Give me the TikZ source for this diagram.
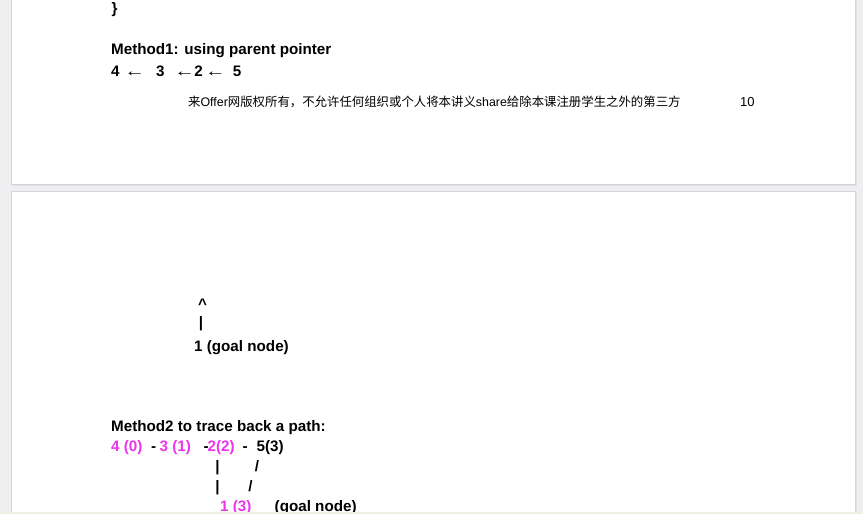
\documentclass[tikz,border=0pt]{standalone}
\usepackage{fontspec}
\setmainfont{Liberation Sans}
\newfontfamily\cjk{Noto Sans CJK SC}
\usepackage{xcolor}
\definecolor{bggray}{RGB}{239,239,241}
\definecolor{pageedge}{RGB}{212,212,214}
\definecolor{shadowc}{RGB}{226,226,228}
\definecolor{mag}{RGB}{236,52,236}
\definecolor{greenstrip}{RGB}{236,241,226}
\begin{document}
\begin{tikzpicture}[x=1pt,y=-1pt,
  txt/.style={inner sep=0pt,anchor=base west,font=\fontsize{15.2}{18}\selectfont\bfseries},
  ctxt/.style={inner sep=0pt,anchor=base,font=\fontsize{15.2}{18}\selectfont\bfseries},
  arr/.style={inner sep=0pt,anchor=base,font=\fontsize{15.2}{18}\selectfont},
  foot/.style={inner sep=0pt,anchor=base west,font=\fontsize{12.4}{15}\selectfont},
  pnumst/.style={inner sep=0pt,anchor=base west,font=\fontsize{13}{15}\selectfont},
  pagebox/.style={fill=white,draw=pageedge,line width=0.8pt},
  pink/.style={txt,text=mag}]
\useasboundingbox (0,0) rectangle (863,514);
\fill[bggray] (0,0) rectangle (863,514);
% pages
\fill[shadowc] (12.5,-5) rectangle (856.5,185.5);
\draw[pagebox] (11.5,-5) rectangle (855,184);
\fill[shadowc] (12.5,192.5) rectangle (856.5,530);
\draw[pagebox] (11.5,191.5) rectangle (855,530);
% page 1
\node[txt] (brace) at (111.5,13.5) {\}};
\node[txt] (m1) at (111,54.5) {Method1: using parent pointer};
\node[ctxt] (p4) at (115.3,76.5) {4};
\node[arr] (a1) at (134.7,76.5) {\scalebox{1.35}[1.05]{←}};
\node[ctxt] (p3) at (160.3,76.5) {3};
\node[arr] (a2) at (184.7,76.5) {\scalebox{1.35}[1.05]{←}};
\node[ctxt] (p2) at (198.7,76.5) {2};
\node[arr] (a3) at (215.3,76.5) {\scalebox{1.35}[1.05]{←}};
\node[ctxt] (p5) at (237,76.5) {5};
\node[foot] (footer) at (188,106.5) {{\cjk 来}Offer{\cjk 网版权所有，不允许任何组织或个人将本讲义}share{\cjk 给除本课注册学生之外的第三方}};
\node[pnumst] (pnum) at (740,106.5) {10};
% page 2
\node[ctxt] (caret) at (202.5,309) {\^{}};
\node[ctxt] (bar1) at (201,327) {|};
\node[txt] (goal1) at (194,351) {1 (goal node)};
\node[txt] (m2) at (111,431.7) {Method2 to trace back a path:};
\node[pink] (n4) at (111,451.5) {4 (0)};
\node[txt] (d1) at (151,451.5) {-};
\node[pink] (n3) at (159.5,451.5) {3 (1)};
\node[txt] (d2) at (203.5,451.5) {-};
\node[pink] (n2) at (207.5,451.5) {2(2)};
\node[txt] (d3) at (242.5,451.5) {-};
\node[txt] (n5) at (256.5,451.5) {5(3)};
\node[ctxt] (v1) at (217.5,471) {|};
\node[ctxt] (s1) at (257,471) {/};
\node[ctxt] (v2) at (217.5,491) {|};
\node[ctxt] (s2) at (250.5,491) {/};
\node[pink] (n1) at (220,511.5) {1 (3)};
\node[txt] (goal2) at (274.5,511.5) {(goal node)};
\fill[greenstrip] (0,511.8) rectangle (863,514);
\end{tikzpicture}
\end{document}
